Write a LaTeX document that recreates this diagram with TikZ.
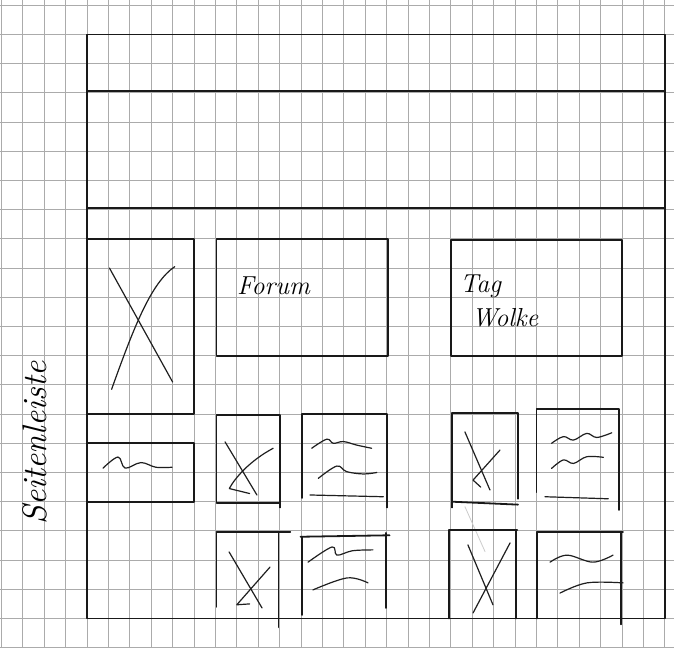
\documentclass[tikz,border=0pt]{standalone}
\usepackage{tikz}

\begin{document}
\begin{tikzpicture}[
  x=21.4pt, y=-29.2pt,
  paper/.style={draw=black!33,line width=0.9pt},
  pen/.style={draw=black!90,line width=1.8pt,line cap=round,line join=round},
  scrawl/.style={draw=black!88,line width=1.2pt,line cap=round,line join=round},
  faint/.style={draw=black!20,line width=0.8pt,line cap=round},
  hand/.style={inner sep=0pt,align=left,font=\fontsize{26}{34}\selectfont\itshape},
]
\useasboundingbox (-4.0654,-1.1815) rectangle (27.4299,21.0103);
\fill[white] (-4.0654,-1.1815) rectangle (27.4299,21.0103);
\foreach \c in {-4,...,27} \draw[paper] (\c,-1.1815) -- (\c,21.0103);
\foreach \r in {-1,...,21} \draw[paper] (-4.0654,\r) -- (27.4299,\r);

\draw[pen] (0,0) -- (27,0) -- (27,20) -- (0,20) -- cycle;
\draw[pen] (0,1.93) -- (27,1.93);
\draw[pen] (0,5.93) -- (27,5.93);

\draw[pen] (0,7) -- (5,7) -- (5,13) -- (0,13);
\draw[scrawl] (1.05,8) -- (4,11.9);
\draw[scrawl] (1.15,12.15) .. controls (2.2,10) and (3,8.5) .. (4.1,7.95);
\draw[pen] (0,14) -- (5,14) -- (5,16) -- (0,16);
\draw[scrawl] plot[smooth,tension=0.6] coordinates {(0.75,14.85) (1.45,14.47) (1.78,14.85) (2.52,14.66) (3.22,14.82) (3.97,14.82)};

\draw[pen] (6.05,7.0) rectangle (14.05,11.0);
\draw[pen] (17.0,7.05) rectangle (25.0,11.0);

\draw[pen] (6.05,13.02) rectangle (9,16.05);
\draw[pen] (9,16.05) -- (9,16.2);
\draw[scrawl] (6.45,13.95) -- (7.94,15.77);
\draw[scrawl] (8.7,14.17) .. controls (7.6,14.6) and (6.9,15.2) .. (6.65,15.55) -- (7.6,15.72);
\draw[pen] (10.05,15.87) -- (10.05,13) -- (14,13) -- (14,16.2);
\draw[scrawl] plot[smooth,tension=0.6] coordinates {(10.5,14.17) (11.2,13.86) (11.51,14.0) (11.98,13.94) (12.6,14.06) (13.3,14.17)};
\draw[scrawl] plot[smooth,tension=0.6] coordinates {(10.81,15.2) (11.67,14.78) (12.13,14.97) (12.91,15.05) (13.54,15.0)};
\draw[scrawl] (10.42,15.77) -- (13.85,15.83);

\draw[pen] (6.05,19.6) -- (6.05,17.04) -- (9.5,17.04);
\draw[pen] (8.95,17.04) -- (8.95,20.3);
\draw[scrawl] (6.64,17.72) -- (8.18,19.64);
\draw[scrawl] (8.55,18.24) -- (7.0,19.53) -- (7.6,19.5);
\draw[pen] (10.05,19.88) -- (10.05,17.2);
\draw[pen] (9.98,17.2) -- (14.14,17.15);
\draw[pen] (13.97,17.07) -- (13.97,19.64);
\draw[scrawl] plot[smooth,tension=0.6] coordinates {(10.33,18.07) (11.45,17.55) (11.68,17.83) (12.4,17.68) (13.36,17.65)};
\draw[scrawl] plot[smooth,tension=0.6] coordinates {(10.56,19.02) (12.15,18.61) (13.13,18.78)};

\draw[pen] (17.06,16.2) -- (17.06,12.96) -- (20.14,12.96) -- (20.14,15.9);
\draw[pen] (17.06,16.0) -- (20.14,16.1);
\draw[scrawl] (17.66,13.61) -- (18.83,15.6);
\draw[scrawl] (19.3,14.23) -- (18.04,15.26) -- (18.4,15.5);
\draw[pen] (21.0,15.67) -- (21.0,12.83) -- (24.85,12.83) -- (24.85,16.28);
\draw[scrawl] plot[smooth,tension=0.6] coordinates {(21.71,14.0) (22.26,13.77) (22.73,13.89) (23.35,13.66) (23.82,13.8) (24.52,13.64)};
\draw[scrawl] plot[smooth,tension=0.6] coordinates {(21.71,14.86) (22.26,14.57) (22.73,14.69) (23.35,14.46) (24.13,14.48)};
\draw[scrawl] (21.4,15.83) -- (24.36,15.9);
\draw[faint] (17.66,16.17) -- (18.6,17.71);

\draw[pen] (16.92,20) -- (16.92,16.97) -- (20.1,16.97);
\draw[pen] (20.05,16.97) -- (20.05,20);
\draw[scrawl] (17.8,17.48) -- (18.97,19.53);
\draw[scrawl] (19.77,17.41) -- (18.04,19.81);
\draw[pen] (21.03,20) -- (21.03,17.04) -- (25.04,17.04);
\draw[pen] (24.95,17.04) -- (24.95,20.2);
\draw[scrawl] plot[smooth,tension=0.6] coordinates {(21.64,18.07) (22.43,17.83) (23.64,18.07) (24.58,17.83)};
\draw[scrawl] plot[smooth,tension=0.6] coordinates {(22.1,19.13) (23.36,18.78) (25.05,18.78)};

\node[hand,anchor=base west] (forum) at (7.0,8.92) {Forum};
\node[hand,anchor=north west] (tagcloud) at (17.43,8.24) {Tag\\\hspace*{0.45em}Wolke};
\node[hand,rotate=90,font=\fontsize{34}{34}\selectfont\itshape] (sidebar) at (-2.43,13.99) {Seitenleiste};
\end{tikzpicture}
\end{document}
